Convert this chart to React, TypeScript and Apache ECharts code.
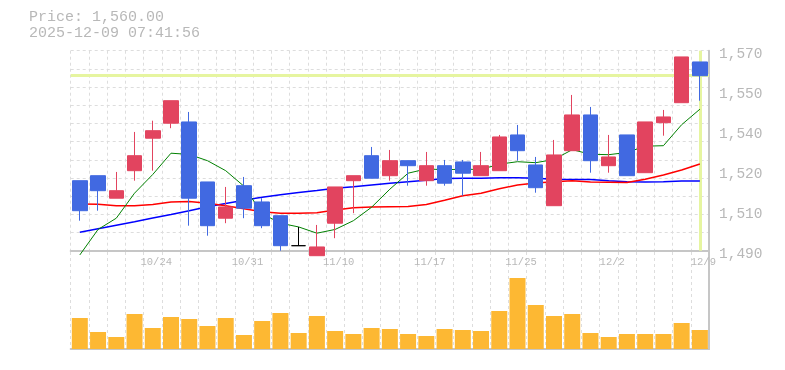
import React, { useEffect, useRef } from 'react';
import * as echarts from 'echarts';

const dates = ['10/20','10/21','10/22','10/23','10/24','10/27','10/28','10/29','10/30','10/31','11/4','11/5','11/6','11/7','11/10','11/11','11/12','11/13','11/14','11/17','11/18','11/19','11/20','11/21','11/25','11/26','11/27','11/28','12/1','12/2','12/3','12/4','12/5','12/8','12/9'];

// [open, close, low, high]
const ohlc = [
  [1518, 1506, 1502, 1518],
  [1520, 1514, 1506, 1520],
  [1511, 1514, 1511, 1521.5],
  [1522, 1528, 1518, 1537.5],
  [1535, 1538, 1522, 1542],
  [1541, 1550, 1539, 1550],
  [1541.5, 1511, 1500, 1545.5],
  [1517.5, 1500, 1496, 1517.5],
  [1503, 1507.5, 1501, 1515.5],
  [1516, 1507, 1503, 1519.5],
  [1509.5, 1500, 1499, 1511],
  [1504, 1492, 1490, 1504],
  [1492, 1492, 1492, 1499.5],
  [1488, 1491.5, 1488, 1500.3],
  [1501, 1515.5, 1495, 1515.5],
  [1518, 1520, 1505, 1520],
  [1528, 1519, 1519, 1531.5],
  [1520, 1526, 1518, 1530.3],
  [1526, 1524, 1516, 1526],
  [1518, 1524, 1516, 1529.5],
  [1524, 1517, 1516, 1526.3],
  [1525.5, 1521, 1512, 1526.3],
  [1520, 1524, 1520, 1529.5],
  [1522, 1535.5, 1522, 1536.3],
  [1536.3, 1530, 1526, 1540.3],
  [1524.3, 1515.2, 1513.2, 1527.5],
  [1508, 1528.3, 1508, 1534.3],
  [1530, 1544.3, 1530, 1552.3],
  [1544.3, 1526, 1521.2, 1547.5],
  [1524, 1527.5, 1521.2, 1536.3],
  [1536.3, 1520, 1520, 1536.3],
  [1521.2, 1541.5, 1521.2, 1541.5],
  [1541.2, 1543.5, 1536, 1546.3],
  [1549.2, 1567.5, 1549.2, 1567.5],
  [1565.5, 1560, 1550, 1565.5],
];

const ma5 = [1488.3, 1498.5, 1503, 1513, 1520.5, 1529, 1528.5, 1526, 1522, 1515.8, 1504.8, 1501, 1499.5, 1497, 1498.5, 1502, 1507.4, 1514.6, 1521, 1522.7, 1522.4, 1522.6, 1522.5, 1524.6, 1525.6, 1525.2, 1526.5, 1530.4, 1528.6, 1528.4, 1529.3, 1531.8, 1532, 1540.4, 1546.6];
const ma25 = [1508.7, 1508.6, 1508, 1508, 1508.5, 1509.5, 1509.7, 1509, 1508, 1506.8, 1505.6, 1505, 1505, 1505.2, 1506.3, 1507.2, 1507.5, 1507.6, 1507.7, 1508.5, 1510.2, 1512, 1513, 1514.8, 1516.3, 1517.1, 1517.6, 1518, 1517.5, 1517.4, 1517.3, 1518.6, 1520.3, 1522.3, 1524.7];
const ma75 = [1497.4, 1498.8, 1500.2, 1501.6, 1503.1, 1504.5, 1506, 1507.6, 1508.9, 1510.2, 1511.4, 1512.4, 1513.3, 1514.1, 1515, 1515.6, 1516.3, 1517, 1517.6, 1518.2, 1518.9, 1519, 1519, 1519.2, 1519.2, 1519, 1518.6, 1518.5, 1518.5, 1518, 1517.6, 1517.5, 1517.6, 1517.9, 1517.9];

// volume (relative units)
const volumes = [31, 17, 12, 35, 21, 32, 30, 23, 31, 14, 28, 36, 16, 33, 18, 15, 21, 20, 15, 13, 20, 19, 18, 38, 71, 44, 33, 35, 16, 12, 15, 15, 15, 26, 19];

const yMin = 1490;
const yMax = 1570;
const yStep = 16;
const yTickLabels = ['1,490', '1,510', '1,520', '1,540', '1,550', '1,570'];
const lastPrice = 1560;
const priceText = 'Price: 1,560.00';
const timeText = '2025-12-09 07:41:56';

export default function App() {
  const ref = useRef<HTMLDivElement>(null);
  useEffect(() => {
    const chart = echarts.init(ref.current!, null, { renderer: 'svg' });
    const font = '"Liberation Mono", monospace';
    const gridColor = '#dddddd';
    const axisColor = '#c6c6c6';
    const textColor = '#b8b8b8';
    const up = '#e2445f';
    const down = '#4169e1';
    const left = 70.7;
    const right = 76;
    const vSplit = { show: true, interval: 0, lineStyle: { color: gridColor, type: [3, 3], width: 1 } };
    chart.setOption({
      animation: false,
      grid: [
        { left, right, top: 50.7, height: 200 },
        { left, right, top: 252, bottom: 21 },
      ],
      graphic: [
        { type: 'text', x: 29, y: 17, style: { text: priceText, font: '15px ' + font, fill: textColor, verticalAlign: 'middle' } },
        { type: 'text', x: 29, y: 33, style: { text: timeText, font: '15px ' + font, fill: textColor, verticalAlign: 'middle' } },
      ],
      xAxis: [
        {
          type: 'category', gridIndex: 0, data: dates, boundaryGap: true,
          axisTick: { show: false },
          axisLine: { show: true, onZero: false, lineStyle: { color: axisColor, width: 2 } },
          axisLabel: {
            interval: (i: number) => i % 5 === 4,
            color: textColor, fontFamily: font, fontSize: 10.5, margin: 6, padding: [0, 0, 0, 7],
          },
          splitLine: vSplit,
        },
        {
          type: 'category', gridIndex: 1, data: dates, boundaryGap: true,
          axisTick: { show: false },
          axisLine: { show: true, onZero: false, lineStyle: { color: axisColor, width: 2 } },
          axisLabel: { show: false },
          splitLine: vSplit,
        },
      ],
      yAxis: [
        {
          type: 'value', gridIndex: 0, position: 'right', min: yMin, max: yMax, interval: yStep,
          splitLine: { show: false },
          axisTick: { show: false },
          axisLine: { show: true, lineStyle: { color: axisColor, width: 2 } },
          axisLabel: {
            formatter: (v: number) => yTickLabels[Math.round((v - yMin) / yStep)] ?? '',
            color: textColor, fontFamily: font, fontSize: 14.5, margin: 10,
            verticalAlign: 'top', lineHeight: 6,
          },
        },
        {
          type: 'value', gridIndex: 0, min: 0, max: 11, interval: 1,
          axisLine: { show: false }, axisTick: { show: false }, axisLabel: { show: false },
          splitLine: { show: true, lineStyle: { color: gridColor, type: [3, 3], width: 1 } },
        },
        {
          type: 'value', gridIndex: 1, position: 'right', min: 0, max: 97,
          splitLine: { show: false }, axisTick: { show: false }, axisLabel: { show: false },
          axisLine: { show: true, lineStyle: { color: axisColor, width: 2 } },
        },
      ],
      series: [
        {
          name: 'MA75', type: 'line', xAxisIndex: 0, yAxisIndex: 0, data: ma75, symbol: 'none', z: 2,
          lineStyle: { color: '#0000ff', width: 1.5 },
          markLine: {
            silent: true, symbol: 'none', z: 1, label: { show: false },
            lineStyle: { color: '#e6f5a0', width: 3, type: 'solid' },
            data: [{ yAxis: lastPrice }, { xAxis: dates[dates.length - 1] }],
          },
        },
        {
          name: 'MA25', type: 'line', xAxisIndex: 0, yAxisIndex: 0, data: ma25, symbol: 'none', z: 2,
          lineStyle: { color: '#ff0000', width: 1.5 },
        },
        {
          name: 'MA5', type: 'line', xAxisIndex: 0, yAxisIndex: 0, data: ma5, symbol: 'none', z: 2, clip: false,
          lineStyle: { color: '#008000', width: 1 },
        },
        {
          name: 'Price', type: 'candlestick', xAxisIndex: 0, yAxisIndex: 0, data: ohlc, barWidth: 15, z: 3,
          itemStyle: { color: up, color0: down, borderColor: up, borderColor0: down, borderColorDoji: '#000000', borderWidth: 1 },
        },
        {
          name: 'Volume', type: 'bar', xAxisIndex: 1, yAxisIndex: 2, data: volumes, barWidth: 16,
          itemStyle: { color: '#fdb833' },
        },
      ],
    });
    return () => chart.dispose();
  }, []);
  return <div ref={ref} style={{ position: 'fixed', left: 0, top: 0, width: 785, height: 370 }} />;
}
